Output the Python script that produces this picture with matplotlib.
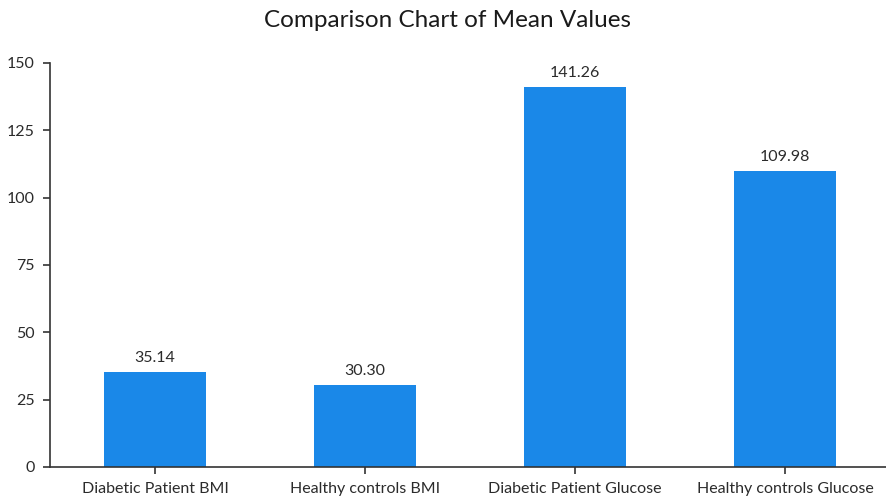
import matplotlib.pyplot as plt

# --- DATA ---
CATEGORIES = ['Diabetic Patient BMI', 'Healthy controls BMI',
              'Diabetic Patient Glucose', 'Healthy controls Glucose']
MEANS = [35.14, 30.30, 141.26, 109.98]

BAR_COLOR = '#1a88e8'
TEXT_COLOR = '#2b2b2b'

plt.rcParams['font.family'] = ['Lato', 'DejaVu Sans']


def plot_means():
    fig = plt.figure(figsize=(8.87, 4.99), dpi=100)
    ax = fig.add_axes([50 / 887, 32 / 499, 837 / 887, 404 / 499])

    x = range(len(CATEGORIES))
    bars = ax.bar(x, MEANS, width=0.485, color=BAR_COLOR)
    ax.bar_label(bars, labels=[f'{v:.2f}' for v in MEANS], padding=5,
                 fontsize=11.5, color=TEXT_COLOR)

    ax.set_xticks(list(x))
    ax.set_xticklabels(CATEGORIES, fontsize=11.5, color=TEXT_COLOR)
    ax.set_xlim(-0.5, 3.486)
    ax.set_ylim(0, 150)
    ax.set_yticks([0, 25, 50, 75, 100, 125, 150])
    ax.tick_params(axis='y', labelsize=11.5, labelcolor=TEXT_COLOR,
                   color='#333333', length=5, width=1.2, pad=6)
    ax.tick_params(axis='x', color='#333333', length=5, width=1.2, pad=6)

    for side in ('top', 'right'):
        ax.spines[side].set_visible(False)
    for side in ('left', 'bottom'):
        ax.spines[side].set_color('#333333')
        ax.spines[side].set_linewidth(1.2)

    fig.text(0.505, 0.958, 'Comparison Chart of Mean Values', ha='center',
             va='center', fontsize=17.5, color='#1a1a1a')

    fig.savefig('out.png', dpi=100)


if __name__ == '__main__':
    plot_means()
